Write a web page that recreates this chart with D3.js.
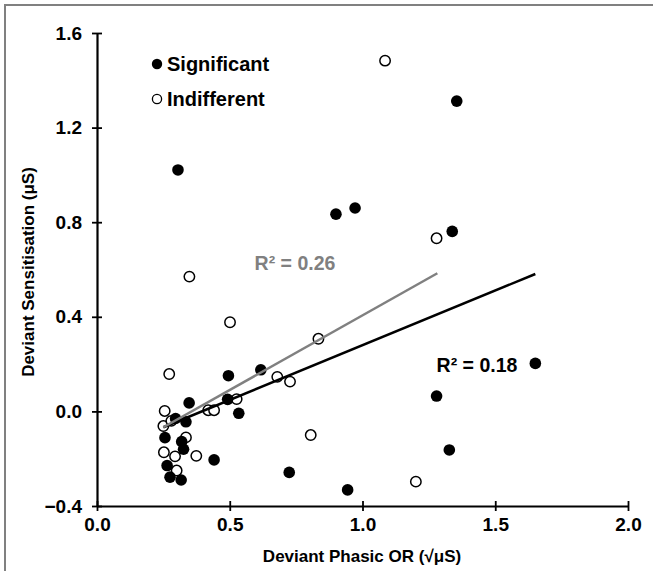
<!DOCTYPE html>
<html><head><meta charset="utf-8">
<script src="https://cdn.jsdelivr.net/npm/d3@7"></script>
<style>body{margin:0;background:#fff}svg{display:block}text{font-family:"Liberation Sans",Arial,sans-serif;font-weight:bold}</style>
</head><body><svg id="c" width="653" height="571"></svg>
<script>
// Significant (filled)
const sigX = [1.355,1.338,0.305,0.900,0.972,0.617,1.651,1.279,1.327,0.724,0.944,0.495,0.347,0.492,0.534,0.335,0.296,0.256,0.319,0.326,0.264,0.441,0.275,0.317];
const sigY = [1.312,0.761,1.021,0.834,0.860,0.176,0.203,0.065,-0.163,-0.258,-0.332,0.151,0.036,0.051,-0.008,-0.044,-0.030,-0.111,-0.128,-0.160,-0.229,-0.205,-0.278,-0.290];
// Indifferent (open)
const indX = [1.085,1.279,0.348,0.501,0.834,0.679,0.727,0.805,1.201,0.272,0.526,0.255,0.419,0.441,0.250,0.280,0.335,0.252,0.294,0.374,0.300];
const indY = [1.483,0.732,0.570,0.377,0.307,0.146,0.126,-0.100,-0.297,0.158,0.052,0.002,0.005,0.005,-0.062,-0.040,-0.110,-0.173,-0.190,-0.188,-0.250];
// Fitted trend lines (x range and endpoints)
const sigTrendX = [0.25, 1.651];
const sigTrendY = [-0.067, 0.581];
const indTrendX = [0.25, 1.282];
const indTrendY = [-0.067, 0.584];
const xTicks = [0.0,0.5,1.0,1.5,2.0];
const yTicks = [-0.4,0.0,0.4,0.8,1.2,1.6];
const legendLabels = ["Significant","Indifferent"];
const r2Labels = ["R² = 0.18","R² = 0.26"];

const svg = d3.select("#c");
// outer frame
svg.append("line").attr("x1",4).attr("x2",653).attr("y1",5).attr("y2",5).attr("stroke","#808080").attr("stroke-width",2);
svg.append("line").attr("x1",5).attr("x2",5).attr("y1",4).attr("y2",571).attr("stroke","#808080").attr("stroke-width",2);

const x = d3.scaleLinear().domain([0,2]).range([97,628]);
const y = d3.scaleLinear().domain([-0.4,1.6]).range([506,33]);

// axes
const xAxis = svg.append("g").attr("transform","translate(0,506)")
  .call(d3.axisBottom(x).tickValues(xTicks).tickFormat(d3.format(".1f")).tickSize(0));
xAxis.select(".domain").attr("stroke","#000").attr("stroke-width",2.2);
xAxis.selectAll(".tick").append("line").attr("y1",-5).attr("y2",5).attr("stroke","#000").attr("stroke-width",1.8);
xAxis.selectAll("text").attr("font-size",19).attr("fill","#000").attr("dy","0.35em").attr("y",18);

const yAxis = svg.append("g").attr("transform","translate(97,0)")
  .call(d3.axisLeft(y).tickValues(yTicks).tickFormat(d3.format(".1f")).tickSize(0).tickPadding(15));
yAxis.select(".domain").attr("stroke","#000").attr("stroke-width",2.2);
yAxis.selectAll(".tick").append("line").attr("x1",-5).attr("x2",5).attr("stroke","#000").attr("stroke-width",1.8);
yAxis.selectAll("text").attr("font-size",19).attr("fill","#000");

svg.append("text").attr("x",362).attr("y",562).attr("text-anchor","middle").attr("font-size",17).text("Deviant Phasic OR (√μS)");
svg.append("text").attr("transform","translate(34,272) rotate(-90)").attr("text-anchor","middle").attr("font-size",17).text("Deviant Sensitisation (μS)");

// points
const sig = sigX.map((v,i)=>({x:v,y:sigY[i]}));
const ind = indX.map((v,i)=>({x:v,y:indY[i]}));
svg.append("g").selectAll("circle").data(ind).join("circle")
  .attr("cx",d=>x(d.x)).attr("cy",d=>y(d.y)).attr("r",5.2)
  .attr("fill","#fff").attr("stroke","#000").attr("stroke-width",1.5);
svg.append("g").selectAll("circle").data(sig).join("circle")
  .attr("cx",d=>x(d.x)).attr("cy",d=>y(d.y)).attr("r",5.8).attr("fill","#000");

// trend lines
const line = d3.line().x(d=>x(d[0])).y(d=>y(d[1]));
svg.append("path").attr("d",line(sigTrendX.map((v,i)=>[v,sigTrendY[i]]))).attr("stroke","#000").attr("stroke-width",2.5).attr("fill","none");
svg.append("path").attr("d",line(indTrendX.map((v,i)=>[v,indTrendY[i]]))).attr("stroke","#808080").attr("stroke-width",2.5).attr("fill","none");

svg.append("text").attr("x",477).attr("y",372).attr("text-anchor","middle").attr("font-size",19.5).attr("fill","#000").text(r2Labels[0]);
svg.append("text").attr("x",295).attr("y",270).attr("text-anchor","middle").attr("font-size",19.5).attr("fill","#808080").text(r2Labels[1]);

// legend
svg.append("circle").attr("cx",157).attr("cy",64).attr("r",5.2).attr("fill","#000");
svg.append("circle").attr("cx",157).attr("cy",99).attr("r",4.6).attr("fill","#fff").attr("stroke","#000").attr("stroke-width",1.3);
svg.append("text").attr("x",167).attr("y",71).attr("font-size",20).text(legendLabels[0]);
svg.append("text").attr("x",167).attr("y",106).attr("font-size",20).text(legendLabels[1]);
</script></body></html>
